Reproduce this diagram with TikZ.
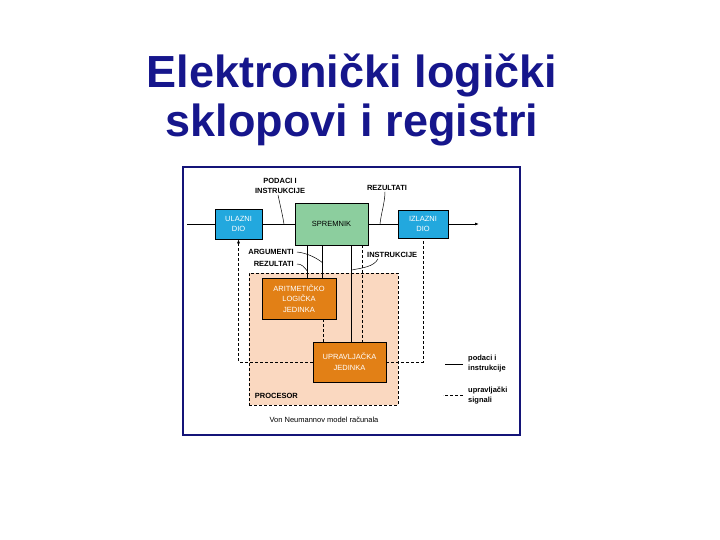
\documentclass[tikz,border=0pt]{standalone}
\usepackage{fontspec}
\setmainfont{Liberation Sans}
\usetikzlibrary{arrows.meta, positioning, calc}
\definecolor{naslov}{RGB}{22,22,140}
\definecolor{okvir}{RGB}{20,20,120}
\definecolor{plava}{RGB}{34,168,222}
\definecolor{zelena}{RGB}{140,206,158}
\definecolor{narancasta}{RGB}{226,128,22}
\definecolor{breskva}{RGB}{250,216,192}
\tikzset{
    >={Latex[length=4pt, width=3pt]},
    blok/.style={draw=black, line width=0.6pt, align=center, inner sep=0pt,
        font=\fontsize{7.5}{10.5}\selectfont},
    podaci/.style={line width=0.8pt},
    signal/.style={densely dashed, line width=0.6pt},
    oznaka/.style={font=\fontsize{7.5}{10}\selectfont\bfseries, align=center, inner sep=1pt},
    pokazivac/.style={line width=0.5pt},
    naslovS/.style={font=\fontsize{45}{50}\selectfont\bfseries, text=naslov, anchor=base}
}
\begin{document}
\begin{tikzpicture}[x=1pt, y=-1pt]
    \useasboundingbox (0,0) rectangle (720,540);
    % naslov
    \node[naslovS] (naslov1) at (352,88) {Elektronički logički};
    \node[naslovS] (naslov2) at (352,137) {sklopovi i registri};
    % okvir slike
    \draw[okvir, line width=2.5pt, fill=white] (183,167) rectangle (520,435);
    % procesor
    \node[draw=black, densely dashed, line width=0.6pt, fill=breskva,
        minimum width=149pt, minimum height=132pt] (procesor) at (323.5,339) {};
    \node[oznaka, anchor=south west] (procesorL) at ([shift={(5pt,6pt)}]procesor.south west) {PROCESOR};
    % blokovi
    \node[blok, fill=plava, text=white, minimum width=47pt, minimum height=30pt] (ulaz) at (238.5,224) {ULAZNI\\DIO};
    \node[blok, fill=zelena, minimum width=73pt, minimum height=42pt] (spremnik) at (331.5,224) {SPREMNIK};
    \node[blok, fill=plava, text=white, minimum width=50pt, minimum height=28pt] (izlaz) at (423,224) {IZLAZNI\\DIO};
    \node[blok, fill=narancasta, text=white, minimum width=74pt, minimum height=41pt] (alu) at (299,298.5) {ARITMETIČKO\\LOGIČKA\\JEDINKA};
    \node[blok, fill=narancasta, text=white, minimum width=73pt, minimum height=40pt] (cu) at (349.5,362) {UPRAVLJAČKA\\JEDINKA};
    % podaci
    \coordinate (ulazL) at (187,224);
    \coordinate (izlazD) at (479,224);
    \draw[podaci] (ulazL) -- (ulaz.west);
    \draw[podaci] (ulaz.east) -- (spremnik.west);
    \draw[podaci] (spremnik.east) -- (izlaz.west);
    \draw[podaci, ->] (izlaz.east) -- (izlazD);
    \coordinate (a1) at ($(alu.north west)!.61!(alu.north east)$);
    \coordinate (a2) at ($(alu.north west)!.82!(alu.north east)$);
    \coordinate (c1) at ($(cu.north west)!.53!(cu.north east)$);
    \draw[podaci] (a1 |- spremnik.south) -- (a1);
    \draw[podaci] (a2 |- spremnik.south) -- (a2);
    \draw[podaci] (c1 |- spremnik.south) -- (c1);
    % upravljacki signali
    \coordinate (c2) at ($(cu.north west)!.68!(cu.north east)$);
    \coordinate (a3) at ($(alu.south west)!.82!(alu.south east)$);
    \draw[signal] (c2 |- spremnik.south) -- (c2);
    \draw[signal] (a3) -- (a3 |- cu.north);
    \draw[signal, ->] (cu.west) -| (ulaz.south);
    \draw[signal] (cu.east) -| (izlaz.south);
    % oznake
    \node[oznaka] (podaciL) at (280,186) {PODACI I\\INSTRUKCIJE};
    \coordinate (p1) at (284,224);
    \draw[pokazivac] ([xshift=-2pt]podaciL.south) .. controls +(2,10) and +(-2,-12) .. (p1);
    \node[oznaka] (rezL) at (387,188) {REZULTATI};
    \coordinate (p2) at (380,224);
    \draw[pokazivac] ([xshift=-2pt]rezL.south) .. controls +(0,10) and +(1,-10) .. (p2);
    \node[oznaka, anchor=east] (argL) at (295,252) {ARGUMENTI};
    \draw[pokazivac] ([xshift=2pt]argL.east) .. controls +(10,1) and +(-6,-5) .. (a2 |- 0,263);
    \node[oznaka, anchor=east] (rez2L) at (295,264) {REZULTATI};
    \draw[pokazivac] ([xshift=2pt]rez2L.east) .. controls +(5,0) and +(-3,-4) .. (a1 |- 0,271);
    \node[oznaka, anchor=west] (instrL) at (366,255) {INSTRUKCIJE};
    \draw[pokazivac] ([xshift=12pt]instrL.south west) .. controls +(-4,8) and +(10,-2) .. (c1 |- 0,270);
    % opis
    \node[font=\fontsize{7.5}{9}\selectfont] (opis) at (324,420) {Von Neumannov model računala};
    % legenda
    \node[oznaka, anchor=west, align=left] (legP) at (467,364) {podaci i\\instrukcije};
    \node[oznaka, anchor=west, align=left] (legS) at (467,395) {upravljački\\signali};
    \draw[podaci] ([xshift=-4pt]legP.west) -- ++(-18,0);
    \draw[signal] ([xshift=-4pt]legS.west) -- ++(-20,0);
\end{tikzpicture}
\end{document}
